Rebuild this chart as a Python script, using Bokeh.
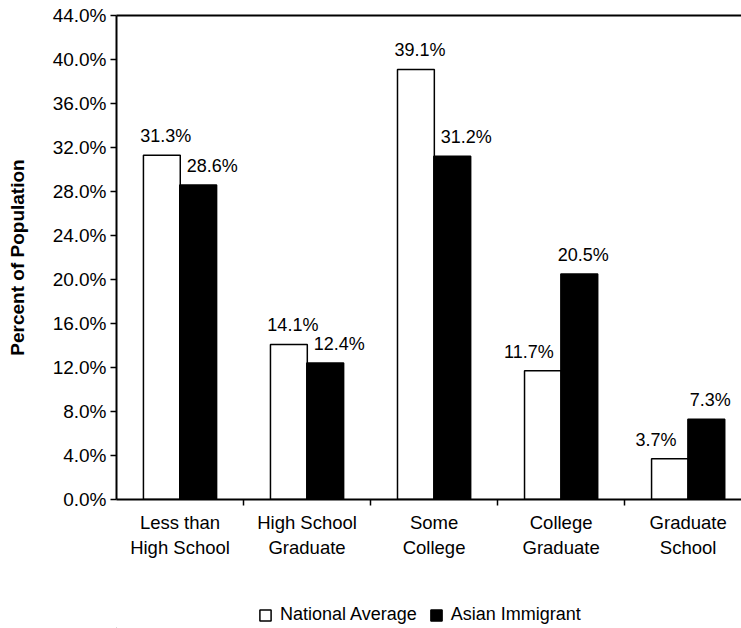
from bokeh.plotting import figure
from bokeh.layouts import column
from bokeh.models import (Range1d, LinearAxis, FixedTicker, PrintfTickFormatter,
                          ColumnDataSource, Legend, LegendItem)
from bokeh.embed import file_html
from bokeh.resources import INLINE
from bokeh.core.properties import value

# ---- data ----
categories = ["Less than\nHigh School", "High School\nGraduate", "Some\nCollege",
              "College\nGraduate", "Graduate\nSchool"]
national_average = [31.3, 14.1, 39.1, 11.7, 3.7]
asian_immigrant = [28.6, 12.4, 31.2, 20.5, 7.3]
series_names = ["National Average", "Asian Immigrant"]
y_ticks = [0, 4, 8, 12, 16, 20, 24, 28, 32, 36, 40, 44]
y_label = "Percent of Population"

FONT = "Liberation Sans"
n = len(categories)
centers = [i + 0.5 for i in range(n)]
dx = 0.143
bw = 0.29
WHITE_STYLE = dict(fill_color="white", line_color="black", line_width=1.5)
BLACK_STYLE = dict(fill_color="black", line_color="black", line_width=1.5)

p = figure(width=741, height=600, output_backend="svg", toolbar_location=None,
           x_range=Range1d(0, 4.92), y_range=Range1d(0, 44),
           min_border_left=116, min_border_right=0, min_border_top=15,
           min_border_bottom=101)
p.outline_line_color = None
p.grid.grid_line_color = None
p.background_fill_color = "white"
p.border_fill_color = "white"

src = ColumnDataSource(dict(
    xw=[c - dx for c in centers], xb=[c + dx for c in centers],
    na=national_average, ai=asian_immigrant))

r1 = p.vbar(x="xw", top="na", width=bw, bottom=0, source=src, **WHITE_STYLE)
r2 = p.vbar(x="xb", top="ai", width=bw, bottom=0, source=src, **BLACK_STYLE)

# data labels
lx, ly, lt, lo = [], [], [], []
for i, (a, b) in enumerate(zip(national_average, asian_immigrant)):
    lx.append(centers[i] - dx); ly.append(a); lt.append(f"{a:.1f}%")
    lo.append(-14 if b > a else 4)
    lx.append(centers[i] + dx); ly.append(b); lt.append(f"{b:.1f}%")
    lo.append(14 if b < a else 4)
lsrc = ColumnDataSource(dict(x=lx, y=ly, text=lt, xo=lo))
p.text(x="x", y="y", text="text", x_offset="xo", y_offset=-9, source=lsrc,
       text_align="center", text_baseline="bottom", text_color="black",
       text_font=value(FONT), text_font_size="18px")

# y axis
ya = p.yaxis[0]
ya.ticker = FixedTicker(ticks=y_ticks)
ya.formatter = PrintfTickFormatter(format="%.1f%%")
ya.major_tick_out = 6
ya.major_tick_in = 0
ya.minor_tick_line_color = None
ya.axis_line_width = 2
ya.major_tick_line_width = 1.5
ya.major_label_standoff = 4
ya.major_label_text_font = FONT
ya.major_label_text_font_size = "19px"
ya.major_label_text_color = "black"
ya.axis_label = y_label
ya.axis_label_text_font = FONT
ya.axis_label_text_font_size = "19px"
ya.axis_label_text_font_style = "bold"
ya.axis_label_text_color = "black"
ya.axis_label_standoff = 22

# x axis
xa = p.xaxis[0]
xa.ticker = FixedTicker(ticks=centers, minor_ticks=[1, 2, 3, 4, 5])
xa.major_label_overrides = {c: lab for c, lab in zip(centers, categories)}
xa.major_tick_line_color = None
xa.major_tick_out = 0
xa.major_tick_in = 0
xa.minor_tick_line_color = "black"
xa.minor_tick_line_width = 1.5
xa.minor_tick_out = 6
xa.minor_tick_in = 0
xa.axis_line_width = 2
xa.major_label_standoff = 6
xa.major_label_text_font = FONT
xa.major_label_text_font_size = "18.5px"
xa.major_label_text_color = "black"

# top border line
top = LinearAxis(ticker=FixedTicker(ticks=[]), major_label_text_font_size="0px",
                 major_tick_out=0, major_tick_in=0, minor_tick_out=0, minor_tick_in=0,
                 major_label_standoff=0, axis_line_width=2)
p.add_layout(top, "above")

# legend strip (separate figure below the chart)
lg = figure(width=741, height=28, output_backend="svg", toolbar_location=None,
            x_range=Range1d(0, 1), y_range=Range1d(0, 1),
            x_axis_location=None, y_axis_location=None,
            min_border=0, outline_line_color=None)
lg.grid.grid_line_color = None
offscreen = ColumnDataSource(dict(x=[-5], top=[-5]))
g1 = lg.vbar(x="x", top="top", bottom=-6, width=0.1, source=offscreen, **WHITE_STYLE)
g2 = lg.vbar(x="x", top="top", bottom=-6, width=0.1, source=offscreen, **BLACK_STYLE)
legend = Legend(items=[LegendItem(label=series_names[0], renderers=[g1]),
                       LegendItem(label=series_names[1], renderers=[g2])],
                orientation="horizontal", location=(142, 3),
                border_line_color=None, background_fill_alpha=0,
                label_text_font=FONT, label_text_font_size="18px",
                label_text_color="black",
                glyph_width=14, glyph_height=14, label_standoff=8,
                spacing=12, padding=0, margin=0)
lg.add_layout(legend, "center")

layout = column(p, lg, spacing=0)
open("out.html", "w").write(file_html(layout, INLINE))
